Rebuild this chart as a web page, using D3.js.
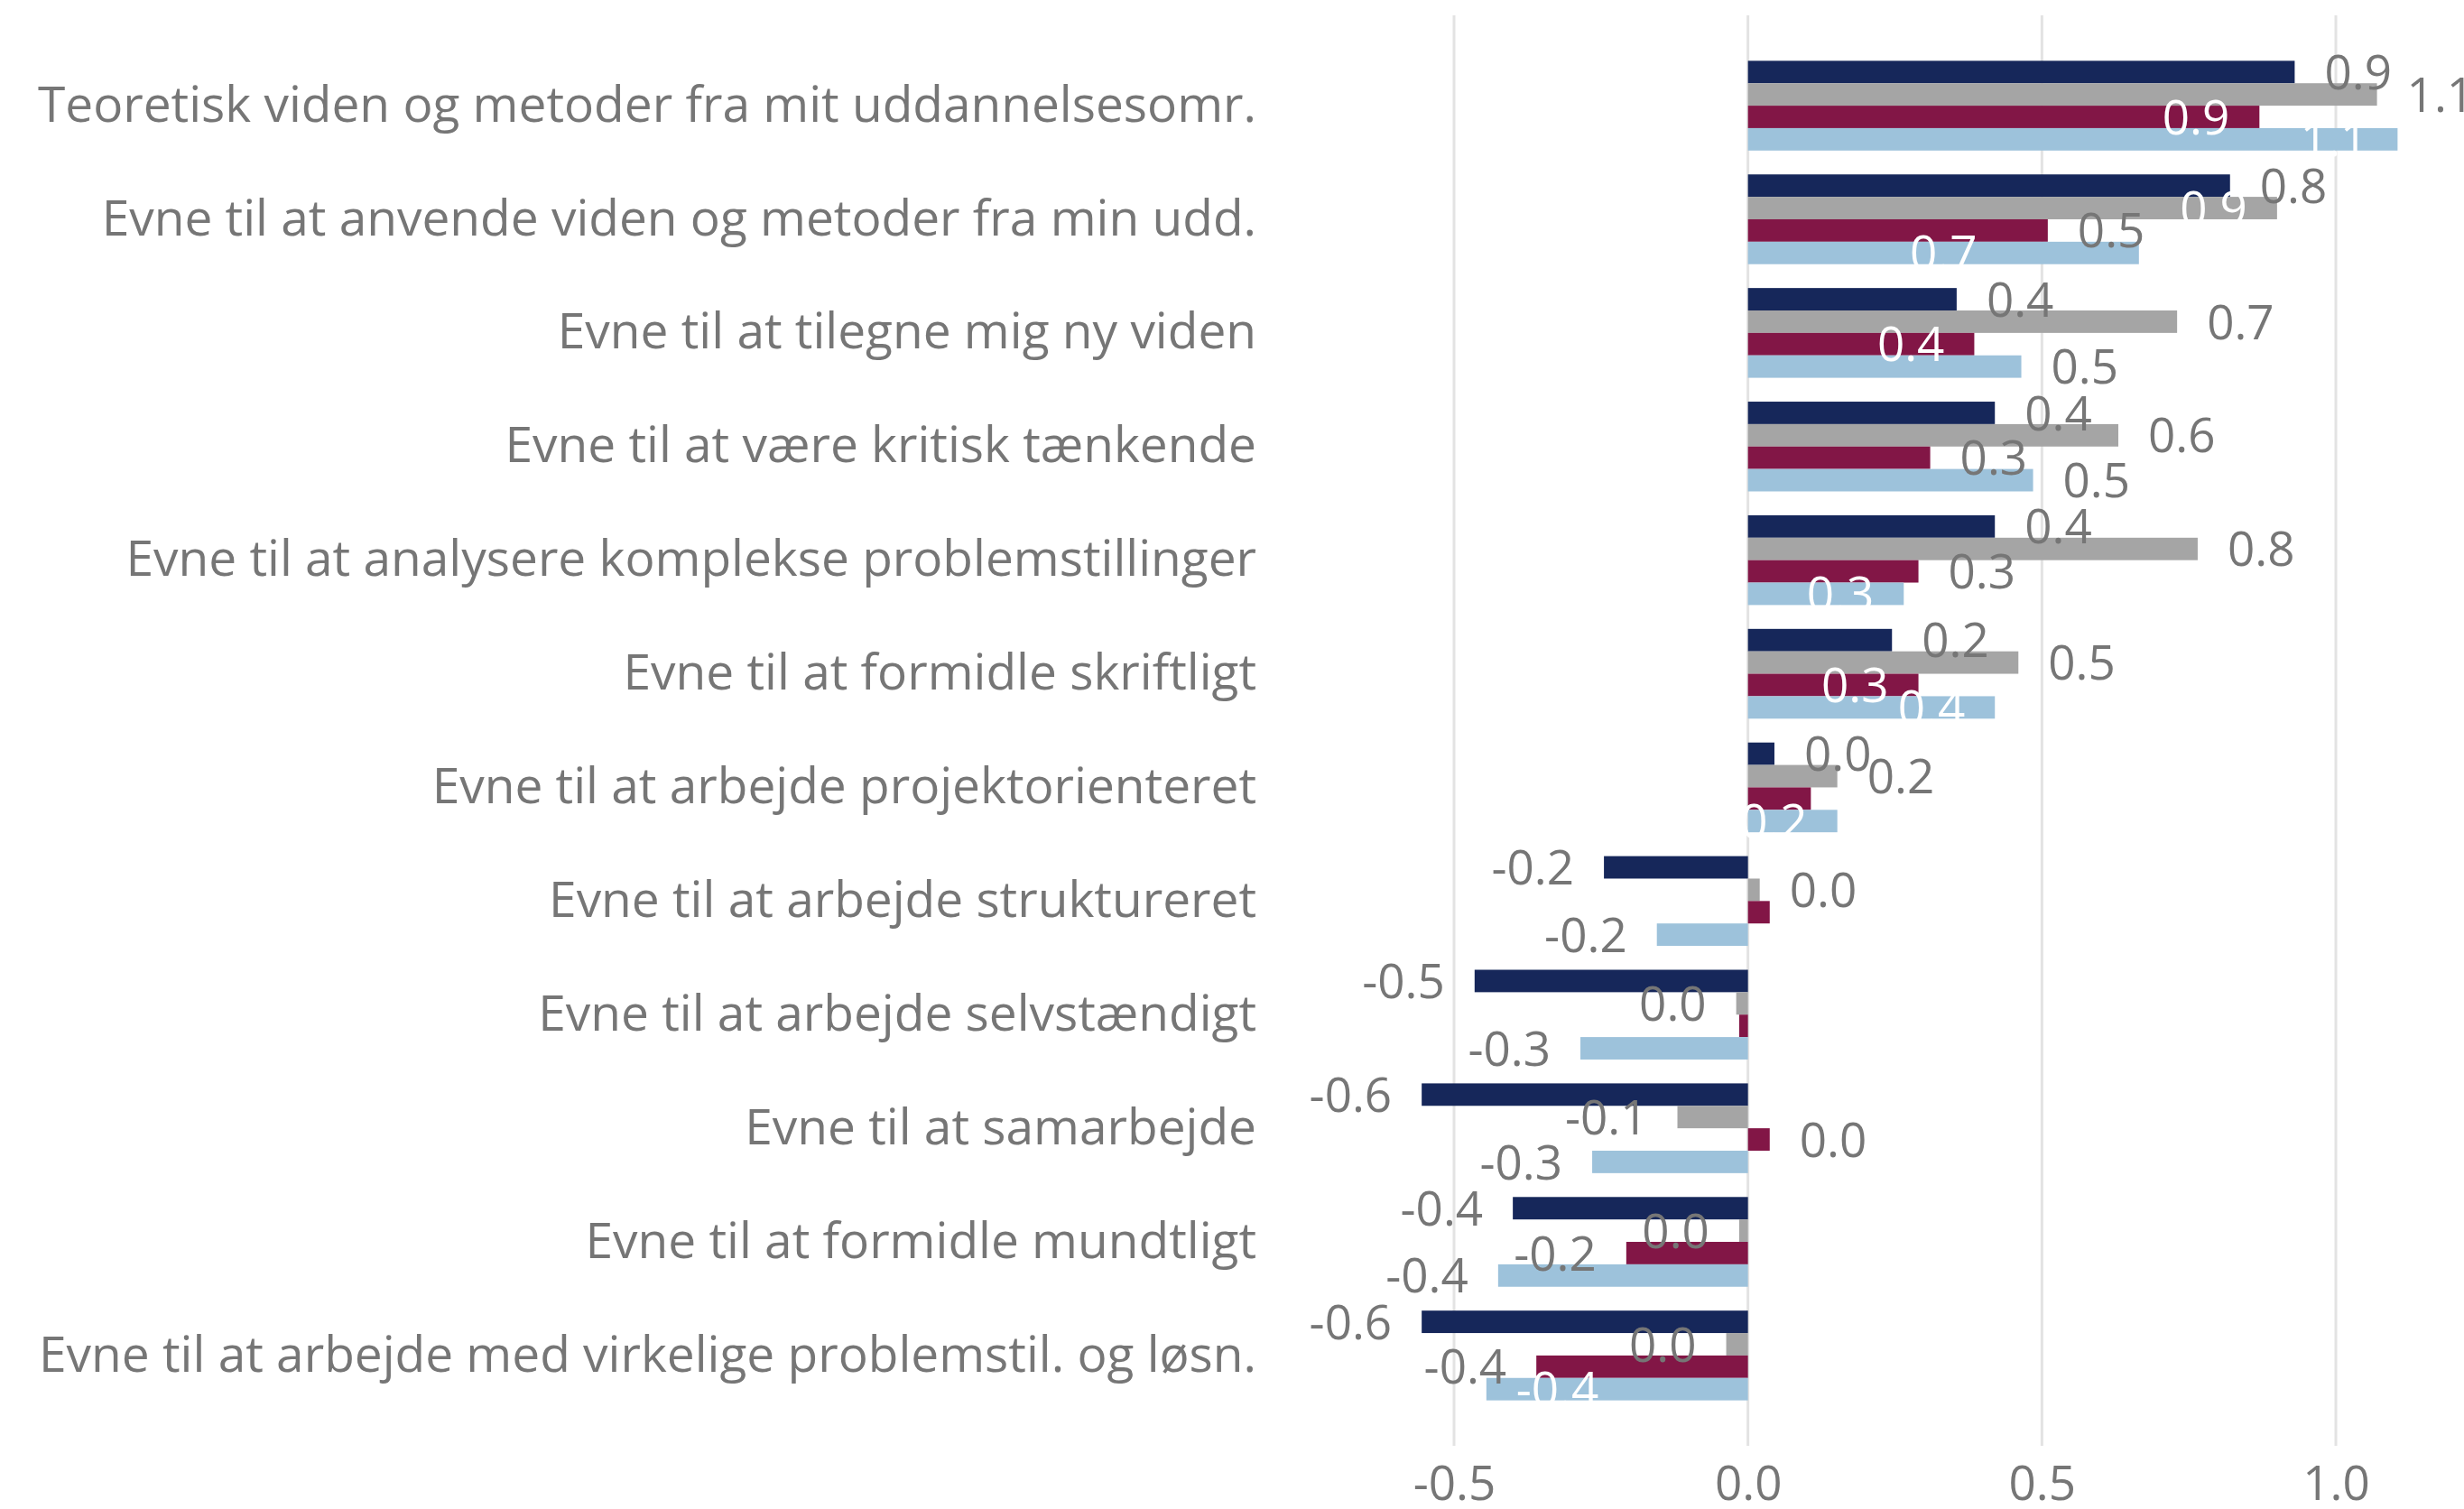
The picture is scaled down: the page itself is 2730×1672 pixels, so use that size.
<!DOCTYPE html>
<html>
<head>
<meta charset="utf-8">
<script src="https://cdn.jsdelivr.net/npm/d3@7"></script>
<style>
  body { margin: 0; background: #fff; }
  text { font-family: "Open Sans", "Noto Sans", sans-serif; }
</style>
</head>
<body>
<div id="chart"></div>
<script>
const categories = [
  "Teoretisk viden og metoder fra mit uddannelsesomr.",
  "Evne til at anvende viden og metoder fra min udd.",
  "Evne til at tilegne mig ny viden",
  "Evne til at være kritisk tænkende",
  "Evne til at analysere komplekse problemstillinger",
  "Evne til at formidle skriftligt",
  "Evne til at arbejde projektorienteret",
  "Evne til at arbejde struktureret",
  "Evne til at arbejde selvstændigt",
  "Evne til at samarbejde",
  "Evne til at formidle mundtligt",
  "Evne til at arbejde med virkelige problemstil. og løsn."
];

const navyValues   = [0.93, 0.82, 0.355, 0.42, 0.42, 0.245, 0.045, -0.245, -0.465, -0.555, -0.40, -0.555];
const grayValues   = [1.07, 0.90, 0.73, 0.63, 0.765, 0.46, 0.152, 0.02, -0.02, -0.12, -0.015, -0.037];
const maroonValues = [0.87, 0.51, 0.385, 0.31, 0.29, 0.29, 0.107, 0.037, -0.015, 0.037, -0.207, -0.36];
const blueValues   = [1.105, 0.665, 0.465, 0.485, 0.265, 0.42, 0.152, -0.155, -0.285, -0.265, -0.425, -0.445];

const tickValues = [-0.5, 0.0, 0.5, 1.0];

// where each data label sits: out = outside end, in = inside end, mid = centre, "" = hidden
const navyLabelPos   = ["out","out","out","out","out","out","out","out","out","out","out","out"];
const grayLabelPos   = ["out","in","out","out","out","out","out","out","out","out","out","out"];
const maroonLabelPos = ["in","out","in","out","out","in","","","","out","out","out"];
const blueLabelPos   = ["in","mid","out","out","in","in","in","out","out","out","out","in"];

const series = [
  { name: "navy",   values: navyValues,   pos: navyLabelPos,   colour: "#16275a" },
  { name: "gray",   values: grayValues,   pos: grayLabelPos,   colour: "#a5a5a5" },
  { name: "maroon", values: maroonValues, pos: maroonLabelPos, colour: "#821646" },
  { name: "blue",   values: blueValues,   pos: blueLabelPos,   colour: "#9dc2db" }
];

const width = 2730, height = 1672;
const textColour = "#767676";
const fmt = d3.formatLocale({ decimal: ".", thousands: ",", grouping: [3], currency: ["", ""], minus: "-" }).format(".1f");

const svg = d3.select("#chart").append("svg")
  .attr("width", width)
  .attr("height", height);

const x = d3.scaleLinear()
  .domain([-0.5, 1.0])
  .range([1611, 2588]);

const y = d3.scaleBand()
  .domain(categories)
  .range([17, 1602])
  .paddingInner(0.21)
  .paddingOuter(0.4);

const ySub = d3.scaleBand()
  .domain(series.map(s => s.name))
  .range([0, y.bandwidth()]);

// gridlines
svg.append("g")
  .selectAll("line")
  .data(tickValues)
  .enter()
  .append("line")
    .attr("x1", d => x(d))
    .attr("x2", d => x(d))
    .attr("y1", 17)
    .attr("y2", 1602)
    .attr("stroke", "#e3e3e3")
    .attr("stroke-width", 3);

// x axis tick labels
const xAxis = svg.append("g")
  .attr("transform", "translate(0,1602)")
  .call(d3.axisBottom(x).tickValues(tickValues).tickFormat(fmt).tickSize(0).tickPadding(22));
xAxis.select(".domain").remove();
xAxis.selectAll("text")
  .attr("font-size", 53)
  .attr("font-family", "Open Sans")
  .attr("fill", textColour);

// category labels
const yAxis = svg.append("g")
  .attr("transform", "translate(1392,0)")
  .call(d3.axisLeft(y).tickSize(0).tickPadding(0));
yAxis.select(".domain").remove();
yAxis.selectAll("text")
  .attr("font-size", 55)
  .attr("font-family", "Open Sans")
  .attr("fill", textColour);

// bars
const groups = svg.append("g")
  .selectAll("g")
  .data(series)
  .enter()
  .append("g")
    .attr("fill", s => s.colour);

groups.selectAll("rect")
  .data(s => s.values.map((v, i) => ({ v: v, cat: categories[i], s: s.name })))
  .enter()
  .append("rect")
    .attr("x", d => x(Math.min(0, d.v)))
    .attr("y", d => y(d.cat) + ySub(d.s))
    .attr("width", d => Math.abs(x(d.v) - x(0)))
    .attr("height", ySub.bandwidth());

// data labels
const gap = 33;
const labels = [];
series.forEach(s => {
  s.values.forEach((v, i) => {
    if (!s.pos[i]) return;
    labels.push({ v: v, cat: categories[i], s: s.name, pos: s.pos[i] });
  });
});

svg.append("g")
  .selectAll("text")
  .data(labels)
  .enter()
  .append("text")
    .attr("x", d => {
      const sign = d.v < 0 ? -1 : 1;
      if (d.pos == "out") return x(d.v) + sign * gap;
      if (d.pos == "in") return x(d.v) - sign * gap;
      return (x(d.v) + x(0)) / 2;
    })
    .attr("y", d => y(d.cat) + ySub(d.s) + ySub.bandwidth() / 2)
    .attr("dy", "0.36em")
    .attr("text-anchor", d => {
      if (d.pos == "mid") return "middle";
      const positive = d.v >= 0;
      if (d.pos == "out") return positive ? "start" : "end";
      return positive ? "end" : "start";
    })
    .attr("font-size", 53)
    .attr("fill", d => d.pos == "out" ? textColour : "#ffffff")
    .text(d => fmt(d.v));
</script>
</body>
</html>
